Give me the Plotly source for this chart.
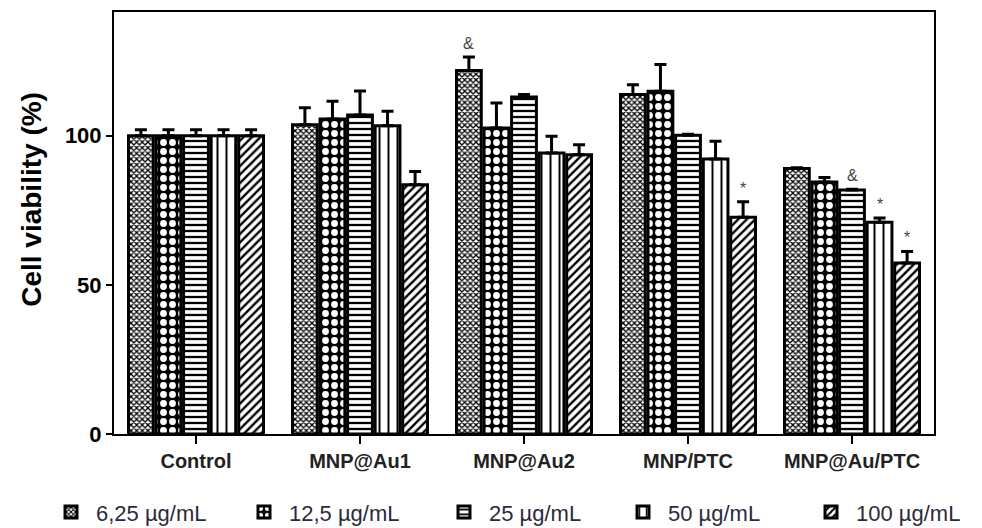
import plotly.graph_objects as go

categories = ["Control", "MNP@Au1", "MNP@Au2", "MNP/PTC", "MNP@Au/PTC"]
series_names = ["6,25 µg/mL", "12,5 µg/mL", "25 µg/mL", "50 µg/mL", "100 µg/mL"]

# values per concentration (one list per series, across categories)
v_625 = [100, 103.7, 121.9, 113.8, 89.0]
v_125 = [100, 105.6, 102.6, 114.9, 84.5]
v_25 = [100, 107.0, 113.0, 100.2, 81.8]
v_50 = [100, 103.4, 94.2, 92.2, 71.0]
v_100 = [100, 83.6, 93.6, 72.7, 57.3]

e_625 = [2.0, 5.7, 4.5, 3.3, 0.3]
e_125 = [2.0, 6.0, 8.4, 9.0, 1.5]
e_25 = [2.0, 8.0, 0.8, 0.3, 0.3]
e_50 = [2.0, 4.8, 5.6, 6.0, 1.4]
e_100 = [2.0, 4.4, 3.4, 5.2, 3.9]

# significance marks: (category index, series index, symbol)
marks = [(2, 0, "&"), (3, 4, "*"), (4, 2, "&"), (4, 3, "*"), (4, 4, "*")]

values = [v_625, v_125, v_25, v_50, v_100]
errors = [e_625, e_125, e_25, e_50, e_100]

patterns = [
    dict(shape="x", size=4, solidity=0.55, fgcolor="black", bgcolor="white", fillmode="replace"),
    dict(shape=".", size=9, solidity=0.45, fgcolor="white", bgcolor="black", fillmode="replace"),
    dict(shape="-", size=6, solidity=0.38, fgcolor="black", bgcolor="white", fillmode="replace"),
    dict(shape="|", size=9, solidity=0.22, fgcolor="black", bgcolor="white", fillmode="replace"),
    dict(shape="/", size=6, solidity=0.4, fgcolor="black", bgcolor="white", fillmode="replace"),
]

# left edge (px) of each legend entry along the bottom row
legend_left_px = [46, 239, 439, 618, 806]

BARGAP = 0.16
GROUPGAP = 0.1
W, H = 982, 528

fig = go.Figure()
legend_ids = ["legend", "legend2", "legend3", "legend4", "legend5"]
for i in range(5):
    fig.add_trace(go.Bar(
        x=categories, y=values[i], name=series_names[i], legend=legend_ids[i],
        marker=dict(color="white", line=dict(color="black", width=3), pattern=patterns[i]),
        error_y=dict(type="data", array=errors[i], arrayminus=[0] * 5, symmetric=False,
                     color="black", thickness=3, width=6),
    ))

slot = (1 - BARGAP) / 5
for ci, si, sym in marks:
    xpos = ci - (1 - BARGAP) / 2 + (si + 0.5) * slot
    ytop = values[si][ci] + errors[si][ci]
    fig.add_annotation(x=xpos, y=ytop, xref="x", yref="y", text=sym, showarrow=False,
                       yanchor="bottom", yshift=3,
                       font=dict(family="Liberation Sans", size=16, color="#444"))

# y axis title as rotated text
fig.add_annotation(x=-0.1, y=0.555, xref="paper", yref="paper", text="<b>Cell viability (%)</b>",
                   textangle=-90, showarrow=False, xanchor="center", yanchor="middle",
                   font=dict(family="Liberation Sans", size=28, color="black"))

legend_style = dict(orientation="h", xref="container", xanchor="left",
                    yref="container", y=0.03, yanchor="middle",
                    font=dict(family="Liberation Sans", size=22, color="#2b2b3b"),
                    itemwidth=40, bgcolor="rgba(0,0,0,0)")

layout_legends = {}
for i, lid in enumerate(legend_ids):
    layout_legends[lid] = dict(legend_style, x=legend_left_px[i] / W)

fig.update_layout(
    width=W, height=H,
    margin=dict(l=114, r=48, t=12, b=94, autoexpand=False),
    paper_bgcolor="white", plot_bgcolor="white",
    barmode="group", bargap=BARGAP, bargroupgap=GROUPGAP,
    font=dict(family="Liberation Sans", color="black"),
    showlegend=True,
    **layout_legends,
)
fig.update_xaxes(
    type="category", range=[-0.5, 4.5],
    showline=True, linecolor="black", linewidth=2, mirror=True,
    ticks="outside", ticklen=8, tickwidth=2, tickcolor="black",
    tickfont=dict(family="Liberation Sans", size=20, color="#222", weight="bold"),
    showgrid=False, zeroline=False,
)
fig.update_yaxes(
    range=[0, 141.5], tickvals=[0, 50, 100],
    showline=True, linecolor="black", linewidth=2, mirror=True,
    ticks="outside", ticklen=6, tickwidth=2, tickcolor="black",
    tickfont=dict(family="Liberation Sans", size=22, color="black", weight="bold"),
    showgrid=False, zeroline=False,
)

fig.write_html("out.html")
